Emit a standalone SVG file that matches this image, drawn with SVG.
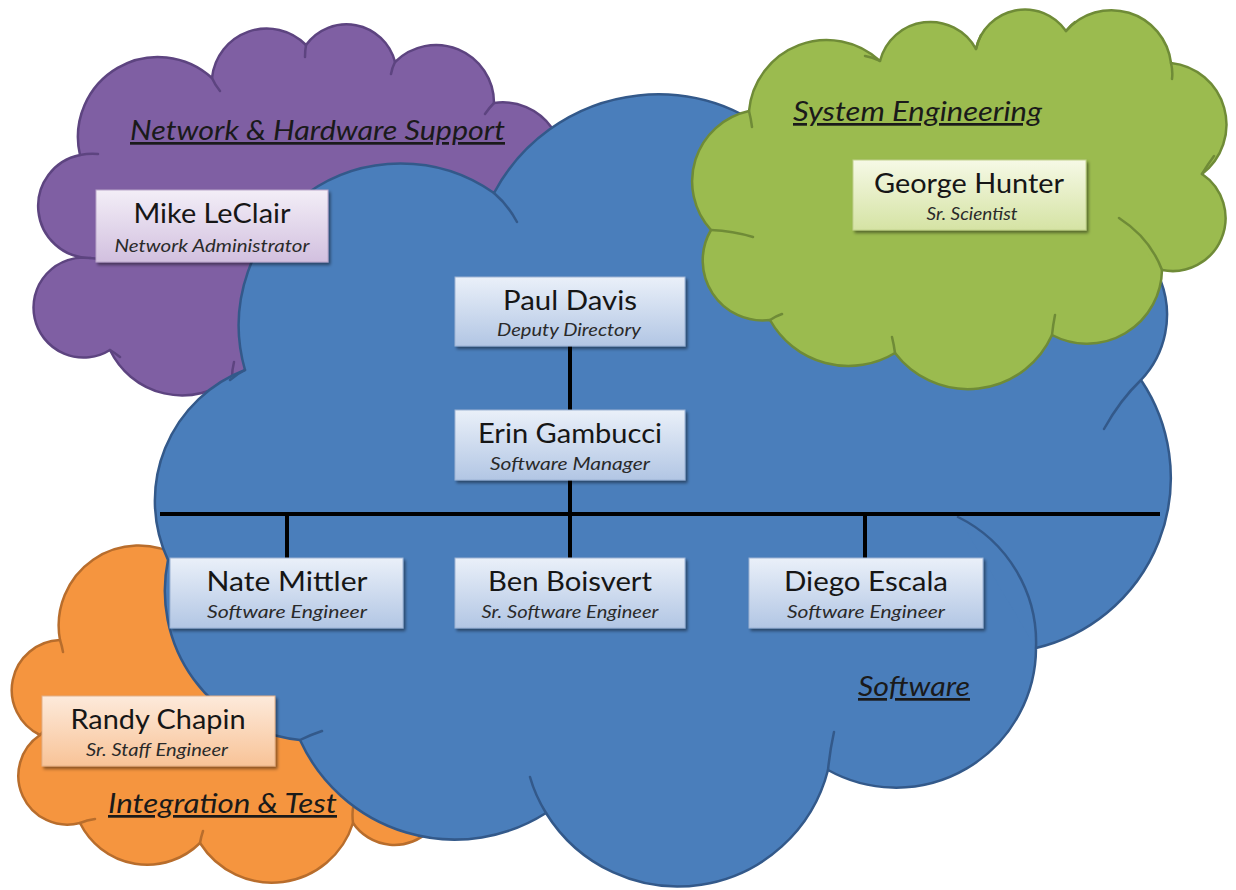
<svg xmlns="http://www.w3.org/2000/svg" width="1236" height="890" viewBox="0 0 1236 890">
<defs>
<linearGradient id="gBlue" x1="0" y1="0" x2="0" y2="1"><stop offset="0" stop-color="#eaf0f9"/><stop offset="1" stop-color="#b2c6e4"/></linearGradient>
<linearGradient id="gPurple" x1="0" y1="0" x2="0" y2="1"><stop offset="0" stop-color="#f3eef7"/><stop offset="1" stop-color="#d2c0df"/></linearGradient>
<linearGradient id="gGreen" x1="0" y1="0" x2="0" y2="1"><stop offset="0" stop-color="#f6f9e6"/><stop offset="1" stop-color="#d5e3a4"/></linearGradient>
<linearGradient id="gOrange" x1="0" y1="0" x2="0" y2="1"><stop offset="0" stop-color="#fdeadb"/><stop offset="1" stop-color="#f8c397"/></linearGradient>
<filter id="sh" x="-10%" y="-10%" width="125%" height="135%"><feDropShadow dx="2" dy="2.5" stdDeviation="1.8" flood-color="#000" flood-opacity="0.45"/></filter>
</defs>
<style>
.cloud{stroke-width:2.5;stroke-linejoin:round}
.tick{fill:none;stroke-width:2.5;stroke-linecap:round}
.purple{fill:#7f5fa3;stroke:#5d4480}
.blue{fill:#4a7ebb;stroke:#33598a}
.green{fill:#9bbb4f;stroke:#6f8b37}
.orange{fill:#f5953f;stroke:#b86d2c}
.box{stroke-width:1;filter:url(#sh)}
.name{font-family:Lato,"Open Sans","Liberation Sans",sans-serif;font-size:26px;fill:#161616;text-anchor:middle}
.role{font-family:Lato,"Open Sans","Liberation Sans",sans-serif;font-size:17px;font-style:italic;fill:#2a2a2a;text-anchor:middle}
.title{font-family:Lato,"Open Sans","Liberation Sans",sans-serif;font-size:27px;font-style:italic;fill:#1a1a1a;text-decoration:underline}
.conn{stroke:#000;stroke-width:4;fill:none}
</style>
<rect width="1236" height="890" fill="#ffffff"/>

<g id="cloud-network">
<path class="cloud purple" d="M80,155 A80,80 0 0 1 212,78 A55,55 0 0 1 306,45 A50,50 0 0 1 395,62 A58,58 0 0 1 494,103 A60,60 0 0 1 556,190 L545,300 L420,380 A150,150 0 0 1 232,378 A80,80 0 0 1 110,350 A50,50 0 1 1 90,258 A52,52 0 0 1 80,155 Z"/>
<path class="tick purple" fill="none" d="M80,155 q10,-2 18,-1 M212,78 q3,7 8,13 M306,45 q-1,6 -1,12 M395,62 q-3,6 -4,12 M494,103 q-5,5 -9,11 M90,258 q8,0 15,3 M110,350 q5,3 10,7 M232,378 q0,-8 2,-16"/>
</g>

<g id="cloud-integration">
<path class="cloud orange" d="M40,735 A50,50 0 0 1 60,640 A80,80 0 0 1 180,557 L250,560 L330,640 L430,800 L430,830 A50,50 0 0 1 353,823 A85,85 0 0 1 200,843 A75,75 0 0 1 80,823 A49,49 0 0 1 40,735 Z"/>
<path class="tick orange" d="M60,640 q2,6 3,12 M40,735 q4,-5 9,-9 M80,823 q7,-3 15,-4 M200,843 q1,-6 3,-12 M353,823 q-1,-8 0,-15"/>
</g>

<g id="cloud-software">
<path class="cloud blue" d="M245,370 A162,162 0 0 1 494,193 A186,186 0 0 1 800,160 L1080,220 A95,95 0 0 1 1141,380 A175,175 0 0 1 1036,648 A140,140 0 0 1 828,770 A155,155 0 0 1 546,813 A170,170 0 0 1 300,740 A150,150 0 0 1 168,560 A140,140 0 0 1 245,370 Z"/>
<path class="tick blue" d="M494,193 Q508,205 517,222 M245,370 q-8,4 -15,10 M300,740 Q310,735 322,731 M546,813 Q535,795 530,777 M828,770 Q830,750 834,732 M1141,380 Q1120,400 1104,429 M1036,648 A140,140 0 0 0 958,517"/>
</g>

<g id="cloud-system">
<path class="cloud green" d="M711,230 A72,72 0 0 1 749,111 A78,78 0 0 1 880,61 A52,52 0 0 1 976,49 A50,50 0 0 1 1066,31 A60,60 0 0 1 1171,63 A62,62 0 0 1 1202,174 A53,53 0 0 1 1162,270 A75,75 0 0 1 1052,335 A92,92 0 0 1 895,353 A90,90 0 0 1 770,320 A60,60 0 0 1 711,230 Z"/>
<path class="tick green" d="M711,230 q22,1 42,7 M749,111 q2,8 3,16 M880,61 q-8,-4 -15,-5 M976,49 q2,-8 5,-14 M1066,31 q4,-5 9,-9 M1171,63 q2,8 1,16 M1202,174 q6,-10 12,-18 M1162,270 Q1150,238 1119,218 M1052,335 q1,-10 3,-20 M895,353 q-1,-8 -3,-16 M770,320 q6,-4 12,-6"/>
</g>

<g id="connectors">
<line class="conn" x1="570" y1="346" x2="570" y2="410"/>
<line class="conn" x1="570" y1="480" x2="570" y2="558"/>
<line class="conn" x1="160" y1="514" x2="1160" y2="514"/>
<line class="conn" x1="287" y1="514" x2="287" y2="558"/>
<line class="conn" x1="865" y1="514" x2="865" y2="558"/>
</g>

<g id="title-network"><text class="title" x="130" y="140" textLength="375" lengthAdjust="spacingAndGlyphs">Network &amp; Hardware Support</text></g>
<g id="title-system"><text class="title" x="793" y="121" textLength="249" lengthAdjust="spacingAndGlyphs">System Engineering</text></g>
<g id="title-software"><text class="title" x="858" y="696" textLength="112" lengthAdjust="spacingAndGlyphs">Software</text></g>
<g id="title-integration"><text class="title" x="108" y="813" textLength="229" lengthAdjust="spacingAndGlyphs">Integration &amp; Test</text></g>

<g id="mike-leclair">
<rect class="box" x="96" y="190" width="232" height="72" fill="url(#gPurple)" stroke="#b9a6c9"/>
<text class="name" x="212" y="223" textLength="157" lengthAdjust="spacingAndGlyphs">Mike LeClair</text>
<text class="role" x="212" y="252" textLength="195" lengthAdjust="spacingAndGlyphs">Network Administrator</text>
</g>
<g id="george-hunter">
<rect class="box" x="853" y="160" width="233" height="70" fill="url(#gGreen)" stroke="#c2d28e"/>
<text class="name" x="969" y="193" textLength="190" lengthAdjust="spacingAndGlyphs">George Hunter</text>
<text class="role" x="972" y="220" textLength="91" lengthAdjust="spacingAndGlyphs">Sr. Scientist</text>
</g>
<g id="paul-davis">
<rect class="box" x="455" y="277" width="230" height="69" fill="url(#gBlue)" stroke="#9db3d4"/>
<text class="name" x="570" y="310" textLength="134" lengthAdjust="spacingAndGlyphs">Paul Davis</text>
<text class="role" x="569" y="336" textLength="144" lengthAdjust="spacingAndGlyphs">Deputy Directory</text>
</g>
<g id="erin-gambucci">
<rect class="box" x="455" y="410" width="230" height="70" fill="url(#gBlue)" stroke="#9db3d4"/>
<text class="name" x="570" y="443" textLength="184" lengthAdjust="spacingAndGlyphs">Erin Gambucci</text>
<text class="role" x="570" y="470" textLength="160" lengthAdjust="spacingAndGlyphs">Software Manager</text>
</g>
<g id="nate-mittler">
<rect class="box" x="170" y="558" width="233" height="70" fill="url(#gBlue)" stroke="#9db3d4"/>
<text class="name" x="287" y="591" textLength="161" lengthAdjust="spacingAndGlyphs">Nate Mittler</text>
<text class="role" x="287" y="618" textLength="160" lengthAdjust="spacingAndGlyphs">Software Engineer</text>
</g>
<g id="ben-boisvert">
<rect class="box" x="455" y="558" width="230" height="70" fill="url(#gBlue)" stroke="#9db3d4"/>
<text class="name" x="570" y="591" textLength="164" lengthAdjust="spacingAndGlyphs">Ben Boisvert</text>
<text class="role" x="570" y="618" textLength="177" lengthAdjust="spacingAndGlyphs">Sr. Software Engineer</text>
</g>
<g id="diego-escala">
<rect class="box" x="749" y="558" width="234" height="70" fill="url(#gBlue)" stroke="#9db3d4"/>
<text class="name" x="866" y="591" textLength="164" lengthAdjust="spacingAndGlyphs">Diego Escala</text>
<text class="role" x="866" y="618" textLength="158" lengthAdjust="spacingAndGlyphs">Software Engineer</text>
</g>
<g id="randy-chapin">
<rect class="box" x="42" y="696" width="233" height="70" fill="url(#gOrange)" stroke="#e3b088"/>
<text class="name" x="158" y="729" textLength="175" lengthAdjust="spacingAndGlyphs">Randy Chapin</text>
<text class="role" x="157" y="756" textLength="142" lengthAdjust="spacingAndGlyphs">Sr. Staff Engineer</text>
</g>
</svg>
